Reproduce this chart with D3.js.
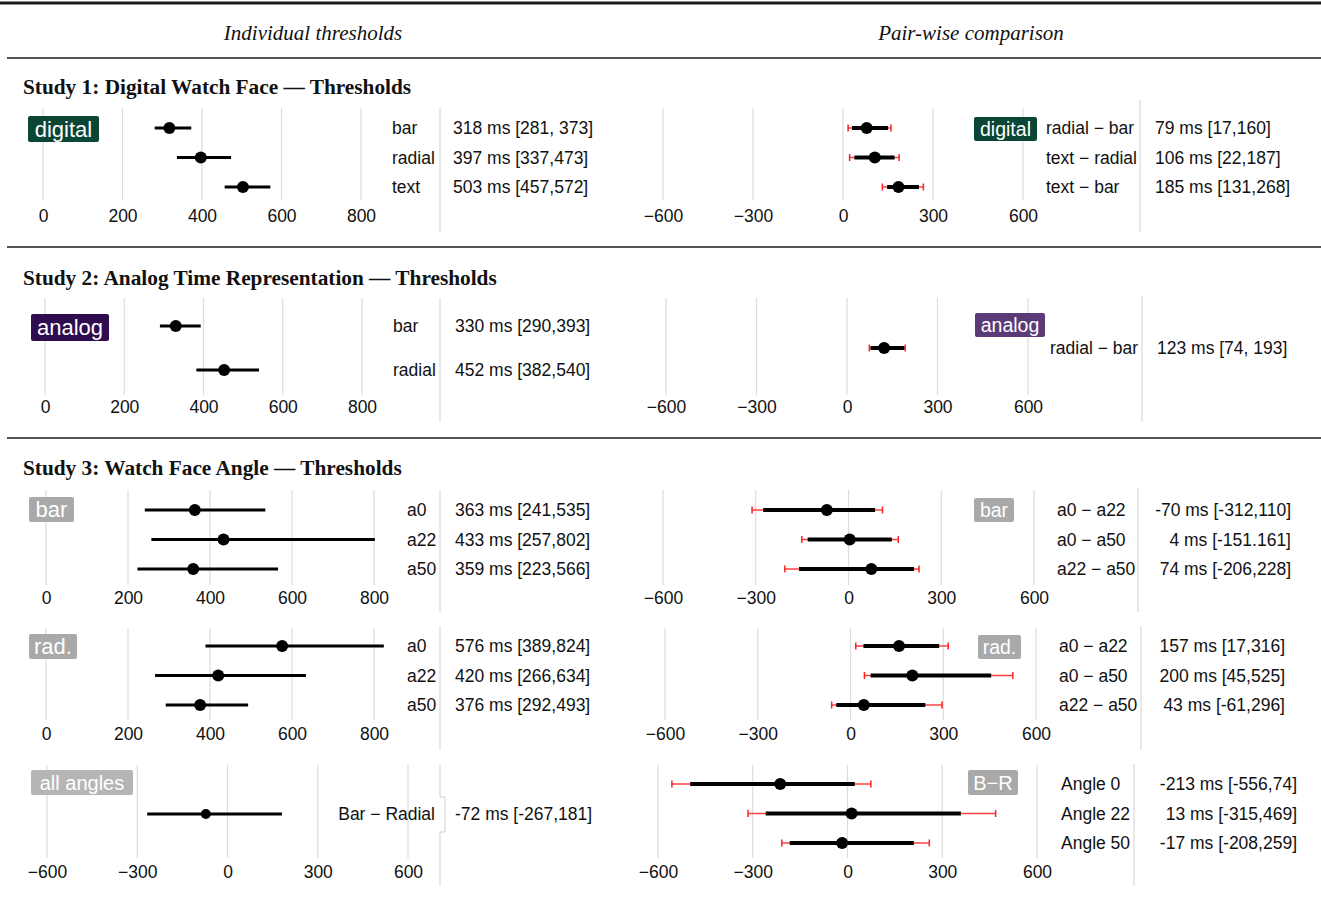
<!DOCTYPE html>
<html>
<head>
<meta charset="utf-8">
<script src="https://cdn.jsdelivr.net/npm/d3@7"></script>
<style>
  body { margin: 0; background: #fff; }
  text { font-family: "Liberation Sans", Arial, sans-serif; fill: #111; }
</style>
</head>
<body>
<div id="chart-area"></div>
<script>
// ---- data ----
let leftTicks = [0, 200, 400, 600, 800];
let pairTicks = [-600, -300, 0, 300, 600];

// Study 1
let s1Cats = ["bar", "radial", "text"];
let s1Mean = [318, 397, 503];
let s1Lo = [281, 337, 457];
let s1Hi = [373, 473, 572];
let s1Text = ["318 ms [281, 373]", "397 ms [337,473]", "503 ms [457,572]"];

let s1PairCats = ["radial − bar", "text − radial", "text − bar"];
let s1PairMean = [79, 106, 185];
let s1PairLo = [17, 22, 131];
let s1PairHi = [160, 187, 268];
let s1PairInLo = [30, 38, 147];
let s1PairInHi = [150, 172, 253];
let s1PairText = ["79 ms [17,160]", "106 ms [22,187]", "185 ms [131,268]"];

// Study 2
let s2Cats = ["bar", "radial"];
let s2Mean = [330, 452];
let s2Lo = [290, 382];
let s2Hi = [393, 540];
let s2Text = ["330 ms [290,393]", "452 ms [382,540]"];

let s2PairCats = ["radial − bar"];
let s2PairMean = [123];
let s2PairLo = [74];
let s2PairHi = [193];
let s2PairInLo = [78];
let s2PairInHi = [190];
let s2PairText = ["123 ms [74, 193]"];

// Study 3 - bar
let s3BarCats = ["a0", "a22", "a50"];
let s3BarMean = [363, 433, 359];
let s3BarLo = [241, 257, 223];
let s3BarHi = [535, 802, 566];
let s3BarText = ["363 ms [241,535]", "433 ms [257,802]", "359 ms [223,566]"];

let s3BarPairCats = ["a0 − a22", "a0 − a50", "a22 − a50"];
let s3BarPairMean = [-70, 4, 74];
let s3BarPairLo = [-312, -151, -206];
let s3BarPairHi = [110, 161, 228];
let s3BarPairInLo = [-276, -132, -160];
let s3BarPairInHi = [86, 140, 212];
let s3BarPairText = ["-70 ms [-312,110]", "4 ms [-151.161]", "74 ms [-206,228]"];

// Study 3 - radial
let s3RadCats = ["a0", "a22", "a50"];
let s3RadMean = [576, 420, 376];
let s3RadLo = [389, 266, 292];
let s3RadHi = [824, 634, 493];
let s3RadText = ["576 ms [389,824]", "420 ms [266,634]", "376 ms [292,493]"];

let s3RadPairCats = ["a0 − a22", "a0 − a50", "a22 − a50"];
let s3RadPairMean = [157, 200, 43];
let s3RadPairLo = [17, 45, -61];
let s3RadPairHi = [316, 525, 296];
let s3RadPairInLo = [42, 65, -46];
let s3RadPairInHi = [287, 455, 242];
let s3RadPairText = ["157 ms [17,316]", "200 ms [45,525]", "43 ms [-61,296]"];

// Study 3 - all angles
let allCats = ["Bar − Radial"];
let allMean = [-72];
let allLo = [-267];
let allHi = [181];
let allText = ["-72 ms [-267,181]"];

let brCats = ["Angle 0", "Angle 22", "Angle 50"];
let brMean = [-213, 13, -17];
let brLo = [-556, -315, -208];
let brHi = [74, 469, 259];
let brInLo = [-498, -259, -183];
let brInHi = [23, 359, 210];
let brText = ["-213 ms [-556,74]", "13 ms [-315,469]", "-17 ms [-208,259]"];

// ---- page ----
let W = 1321, H = 902;
let svg = d3.select("#chart-area")
  .append("svg")
  .attr("width", W)
  .attr("height", H);

let fmt = d => d < 0 ? "\u2212" + Math.abs(d) : d;
let fs = "17.5px";

function rule(y, w, x0) {
  svg.append("line")
    .attr("x1", x0).attr("x2", W)
    .attr("y1", y).attr("y2", y)
    .attr("stroke", "#1a1a1a")
    .attr("stroke-width", w);
}

rule(3, 3, 0);
rule(58, 1.3, 7);
rule(247, 1.3, 7);
rule(438, 1.3, 7);

svg.append("text")
  .attr("x", 313).attr("y", 40)
  .attr("text-anchor", "middle")
  .style("font-family", "'Liberation Serif', 'Times New Roman', serif")
  .style("font-style", "italic")
  .style("font-size", "21px")
  .text("Individual thresholds");
svg.append("text")
  .attr("x", 971).attr("y", 40)
  .attr("text-anchor", "middle")
  .style("font-family", "'Liberation Serif', 'Times New Roman', serif")
  .style("font-style", "italic")
  .style("font-size", "21px")
  .text("Pair-wise comparison");

function title(y, t) {
  svg.append("text")
    .attr("x", 23).attr("y", y)
    .style("font-family", "'Liberation Serif', 'Times New Roman', serif")
    .style("font-weight", "bold")
    .style("font-size", "21.3px")
    .text(t);
}
title(94, "Study 1: Digital Watch Face \u2014 Thresholds");
title(285, "Study 2: Analog Time Representation \u2014 Thresholds");
title(475, "Study 3: Watch Face Angle \u2014 Thresholds");

function badge(b) {
  let g = svg.append("g");
  g.append("rect")
    .attr("x", b.x).attr("y", b.y)
    .attr("width", b.w).attr("height", b.h)
    .attr("rx", 2)
    .attr("fill", b.fill);
  g.append("text")
    .attr("x", b.x + b.w / 2)
    .attr("y", b.y + b.h / 2)
    .attr("dy", "0.36em")
    .attr("text-anchor", "middle")
    .style("font-size", b.fs + "px")
    .style("fill", "#fff")
    .text(b.text);
}

// one forest panel
function panel(p) {
  let x = d3.scaleLinear().domain(p.domain).range(p.range);
  let y = d3.scalePoint().domain(p.cats).range(p.rows);
  let g = svg.append("g");

  // grid lines
  g.selectAll(".grid")
    .data(p.ticks)
    .enter()
    .append("line")
    .attr("x1", d => x(d)).attr("x2", d => x(d))
    .attr("y1", p.grid[0]).attr("y2", p.grid[1])
    .attr("stroke", "#dcdcdc")
    .attr("stroke-width", 1.2);

  // axis labels
  let axis = d3.axisBottom(x).tickValues(p.ticks).tickFormat(fmt).tickSize(0).tickPadding(0);
  let ax = g.append("g")
    .attr("transform", "translate(0," + p.tickY + ")")
    .call(axis);
  ax.select(".domain").remove();
  ax.selectAll("text")
    .attr("y", 0).attr("dy", "0.35em")
    .style("font-size", fs)
    .style("font-family", "'Liberation Sans', Arial, sans-serif")
    .attr("fill", "#111");

  let idx = d3.range(p.cats.length);

  // outer interval (red whiskers for pair-wise panels)
  if (p.inLo) {
    g.selectAll(".red")
      .data(idx).enter().append("line")
      .attr("x1", i => x(p.lo[i])).attr("x2", i => x(p.hi[i]))
      .attr("y1", i => y(p.cats[i])).attr("y2", i => y(p.cats[i]))
      .attr("stroke", "#ff4040").attr("stroke-width", 1.5);
    [p.lo, p.hi].forEach(arr => {
      g.selectAll(null)
        .data(idx).enter().append("line")
        .attr("x1", i => x(arr[i])).attr("x2", i => x(arr[i]))
        .attr("y1", i => y(p.cats[i]) - 3.5).attr("y2", i => y(p.cats[i]) + 3.5)
        .attr("stroke", "#ff2020").attr("stroke-width", 1.5);
    });
    g.selectAll(".inner")
      .data(idx).enter().append("line")
      .attr("x1", i => x(p.inLo[i])).attr("x2", i => x(p.inHi[i]))
      .attr("y1", i => y(p.cats[i])).attr("y2", i => y(p.cats[i]))
      .attr("stroke", "#000").attr("stroke-width", 4);
  } else {
    g.selectAll(".ci")
      .data(idx).enter().append("line")
      .attr("x1", i => x(p.lo[i])).attr("x2", i => x(p.hi[i]))
      .attr("y1", i => y(p.cats[i])).attr("y2", i => y(p.cats[i]))
      .attr("stroke", "#000").attr("stroke-width", 3);
  }

  g.selectAll(".pt")
    .data(idx).enter().append("circle")
    .attr("cx", i => x(p.mean[i]))
    .attr("cy", i => y(p.cats[i]))
    .attr("r", p.r || 6)
    .attr("fill", "#000");

  // row labels
  g.selectAll(".lab")
    .data(idx).enter().append("text")
    .attr("x", p.labX)
    .attr("y", i => y(p.cats[i]))
    .attr("dy", "0.35em")
    .attr("text-anchor", p.labAnchor || "start")
    .style("font-size", fs)
    .text(i => p.cats[i]);

  // value labels
  g.selectAll(".val")
    .data(idx).enter().append("text")
    .attr("x", p.valX)
    .attr("y", i => y(p.cats[i]))
    .attr("dy", "0.35em")
    .attr("text-anchor", p.valAnchor || "start")
    .style("font-size", fs)
    .text(i => p.text[i]);

  // separator
  if (p.sepPath) {
    g.append("path").attr("d", p.sepPath)
      .attr("fill", "none").attr("stroke", "#d0d0d0").attr("stroke-width", 1);
  } else {
    g.append("line")
      .attr("x1", p.sepX).attr("x2", p.sepX)
      .attr("y1", p.sep[0]).attr("y2", p.sep[1])
      .attr("stroke", "#d0d0d0").attr("stroke-width", 1);
  }

  if (p.badge) badge(p.badge);
}

let dGreen = "#0b4535", dPurple = "#2e0c4e", lPurple = "#5b3a78", grey = "#a9a9a9";

// Study 1
panel({
  domain: [0, 800], range: [43, 361], ticks: leftTicks, grid: [108, 200], tickY: 216,
  cats: s1Cats, rows: [128, 187], mean: s1Mean, lo: s1Lo, hi: s1Hi, text: s1Text,
  labX: 392, valX: 453, sepX: 440, sep: [108, 232],
  badge: {x: 28, y: 116, w: 71, h: 26, fill: dGreen, text: "digital", fs: 22}
});
panel({
  domain: [-600, 600], range: [663, 1023], ticks: pairTicks, grid: [108, 200], tickY: 216,
  cats: s1PairCats, rows: [128, 187], mean: s1PairMean, lo: s1PairLo, hi: s1PairHi,
  inLo: s1PairInLo, inHi: s1PairInHi, text: s1PairText,
  labX: 1046, valX: 1155, sepX: 1140, sep: [100, 232],
  badge: {x: 974, y: 117, w: 63, h: 24, fill: dGreen, text: "digital", fs: 19.5}
});

// Study 2
panel({
  domain: [0, 800], range: [45, 362], ticks: leftTicks, grid: [298, 395], tickY: 407,
  cats: s2Cats, rows: [326, 370], mean: s2Mean, lo: s2Lo, hi: s2Hi, text: s2Text,
  labX: 393, valX: 455, sepX: 440, sep: [298, 422],
  badge: {x: 31, y: 314, w: 78, h: 27, fill: dPurple, text: "analog", fs: 22}
});
panel({
  domain: [-600, 600], range: [666, 1028], ticks: pairTicks, grid: [298, 395], tickY: 407,
  cats: s2PairCats, rows: [348, 348], mean: s2PairMean, lo: s2PairLo, hi: s2PairHi,
  inLo: s2PairInLo, inHi: s2PairInHi, text: s2PairText,
  labX: 1050, valX: 1157, sepX: 1142, sep: [296, 422],
  badge: {x: 975, y: 313, w: 70, h: 24, fill: lPurple, text: "analog", fs: 19.5}
});

// Study 3 - bar
panel({
  domain: [0, 800], range: [46, 374], ticks: leftTicks, grid: [490, 585], tickY: 598,
  cats: s3BarCats, rows: [510, 569], mean: s3BarMean, lo: s3BarLo, hi: s3BarHi, text: s3BarText,
  labX: 407, valX: 455, sepX: 440, sep: [490, 612],
  badge: {x: 29, y: 497, w: 45, h: 25, fill: grey, text: "bar", fs: 22}
});
panel({
  domain: [-600, 600], range: [663, 1034], ticks: pairTicks, grid: [490, 585], tickY: 598,
  cats: s3BarPairCats, rows: [510, 569], mean: s3BarPairMean, lo: s3BarPairLo, hi: s3BarPairHi,
  inLo: s3BarPairInLo, inHi: s3BarPairInHi, text: s3BarPairText,
  labX: 1057, valX: 1291, valAnchor: "end", sepX: 1138, sep: [488, 612],
  badge: {x: 974, y: 498, w: 40, h: 24, fill: grey, text: "bar", fs: 19.5}
});

// Study 3 - radial
panel({
  domain: [0, 800], range: [46, 374], ticks: leftTicks, grid: [628, 720], tickY: 734,
  cats: s3RadCats, rows: [646, 705], mean: s3RadMean, lo: s3RadLo, hi: s3RadHi, text: s3RadText,
  labX: 407, valX: 455, sepX: 440, sep: [626, 750],
  badge: {x: 29, y: 634, w: 48, h: 25, fill: grey, text: "rad.", fs: 22}
});
panel({
  domain: [-600, 600], range: [665, 1036], ticks: pairTicks, grid: [628, 720], tickY: 734,
  cats: s3RadPairCats, rows: [646, 705], mean: s3RadPairMean, lo: s3RadPairLo, hi: s3RadPairHi,
  inLo: s3RadPairInLo, inHi: s3RadPairInHi, text: s3RadPairText,
  labX: 1059, valX: 1285, valAnchor: "end", sepX: 1141, sep: [626, 750],
  badge: {x: 978, y: 635, w: 43, h: 24, fill: grey, text: "rad.", fs: 19.5}
});

// Study 3 - all angles
panel({
  domain: [-600, 600], range: [47, 408], ticks: pairTicks, grid: [765, 858], tickY: 872,
  cats: allCats, rows: [814, 814], mean: allMean, lo: allLo, hi: allHi, text: allText, r: 5,
  labX: 435, labAnchor: "end", valX: 455,
  sepPath: "M440,765V797H445V832H440V886",
  badge: {x: 31, y: 770, w: 102, h: 25, fill: "#b5b5b5", text: "all angles", fs: 20}
});
panel({
  domain: [-600, 600], range: [658, 1037], ticks: pairTicks, grid: [765, 858], tickY: 872,
  cats: brCats, rows: [784, 843], mean: brMean, lo: brLo, hi: brHi,
  inLo: brInLo, inHi: brInHi, text: brText,
  labX: 1061, valX: 1297, valAnchor: "end", sepX: 1134, sep: [764, 886],
  badge: {x: 968, y: 770, w: 50, h: 25, fill: grey, text: "B\u2212R", fs: 20}
});
</script>
</body>
</html>
